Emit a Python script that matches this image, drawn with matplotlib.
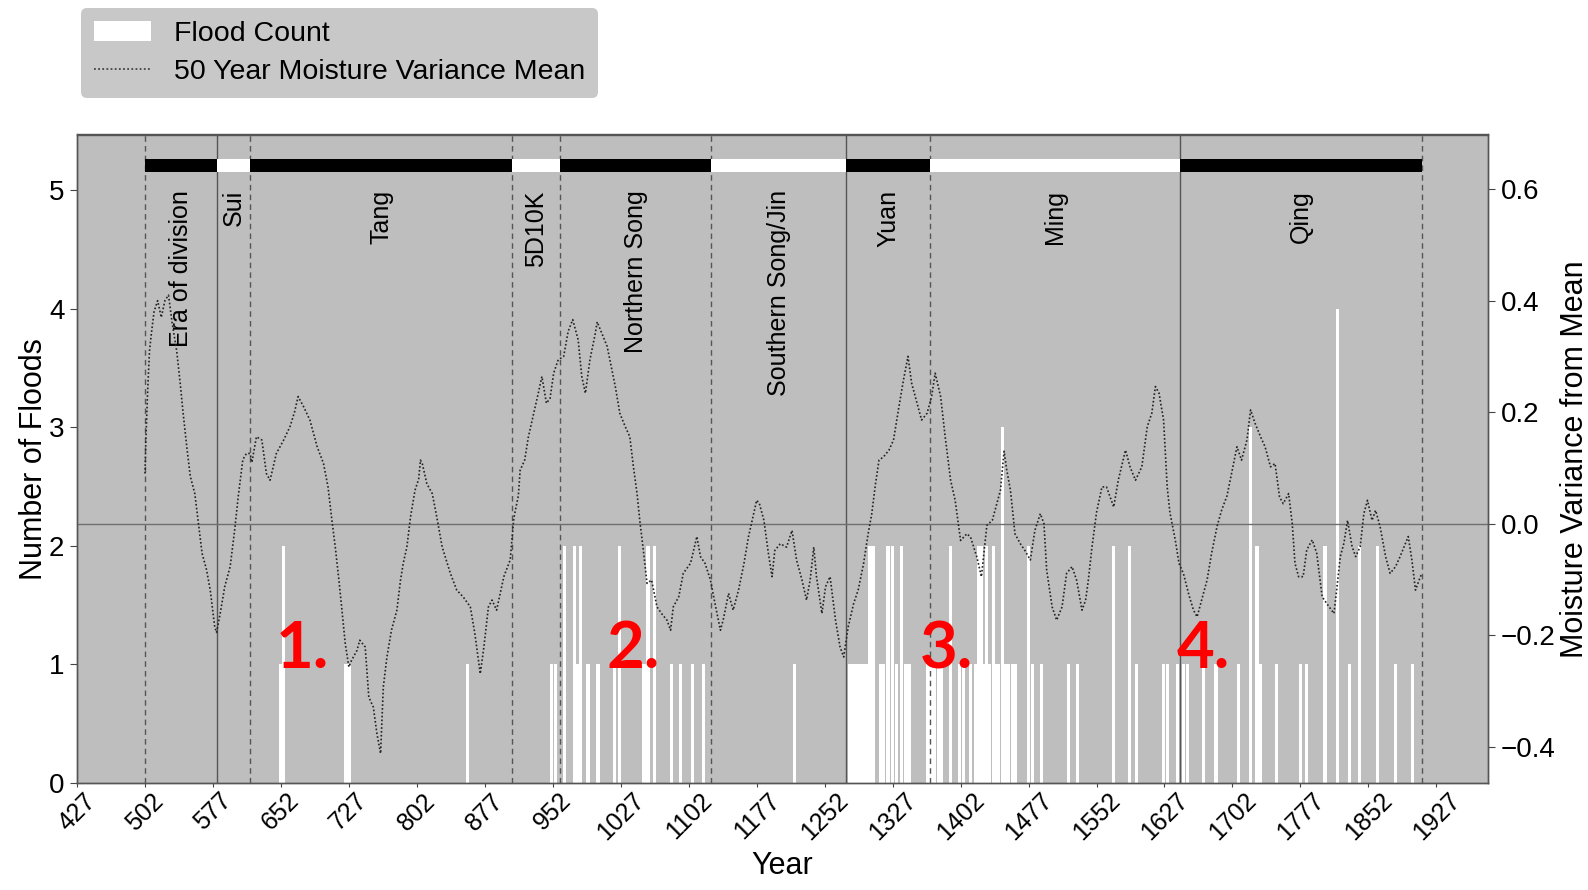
import matplotlib.pyplot as plt
from matplotlib.patches import Patch
from matplotlib.lines import Line2D

# Flood counts per year (white bars, left axis)
flood_years = [652, 655, 723, 727, 858, 951, 955, 965, 976, 979, 983, 991, 1002,
               1020, 1026, 1052, 1055, 1057, 1064, 1083, 1093, 1106, 1118, 1219,
               1280, 1283, 1286, 1289, 1292, 1296, 1299, 1302, 1306, 1314, 1317,
               1322, 1327, 1331, 1337, 1341, 1345, 1366,
               1370, 1373, 1378, 1381, 1391, 1401, 1405, 1413, 1419, 1422, 1425,
               1428, 1431, 1434, 1438, 1441, 1444, 1448, 1451, 1455, 1459, 1462,
               1477, 1481, 1491, 1521, 1531, 1571, 1588, 1596, 1626, 1630, 1641,
               1648, 1652, 1670, 1684, 1709, 1722, 1729, 1733, 1751, 1777, 1784,
               1804, 1818, 1831, 1842, 1862, 1882, 1901]
flood_counts = [1, 2, 1, 1, 1, 1, 1, 2, 2, 1, 2, 1, 1,
                1, 2, 1, 1, 2, 2, 1, 1, 1, 1, 1,
                1, 1, 1, 1, 1, 1, 1, 2, 2, 1, 1,
                2, 2, 1, 2, 1, 1, 1,
                1, 1, 1, 1, 2, 1, 1, 1, 1, 2, 2,
                1, 2, 1, 2, 1, 1, 3, 1, 1, 1, 1,
                2, 1, 1, 1, 1, 2, 2, 1, 1, 1, 1,
                1, 1, 1, 1, 1, 3, 2, 1, 1, 1, 1,
                2, 4, 1, 2, 2, 1, 1]

# 50 year moisture variance mean (right axis)
moist_years = [502, 503, 505, 507, 509, 512, 516, 520, 524, 528, 532, 537, 541, 544,
               548, 552, 557, 561, 565, 570, 574, 579, 581, 585, 590, 596, 601, 605,
               610, 614, 618, 620, 625, 631, 636, 640, 647, 655, 662, 667, 671, 677,
               684, 692, 699, 704, 708, 712, 716, 719, 723, 727, 730, 736, 739, 745,
               749, 754, 758, 762, 765, 769, 774, 780, 784, 787, 791, 795, 800, 804,
               806, 808, 813, 819, 824, 830, 839, 846, 853, 861, 866, 872, 876, 881,
               885, 890, 898, 905, 909, 914, 916, 921, 925, 931, 936, 940, 945, 949,
               953, 958, 964, 969, 974, 980, 984, 988, 993, 999, 1001, 1006, 1012,
               1015, 1021, 1026, 1032, 1037, 1041, 1045, 1048, 1052, 1056, 1061,
               1067, 1072, 1078, 1082, 1085, 1091, 1096, 1104, 1111, 1115, 1120,
               1126, 1131, 1137, 1140, 1146, 1151, 1157, 1163, 1168, 1172, 1177,
               1180, 1185, 1190, 1194, 1197, 1203, 1210, 1216, 1221, 1227, 1232,
               1236, 1240, 1243, 1249, 1253, 1258, 1264, 1269, 1273, 1278, 1284,
               1289, 1295, 1300, 1304, 1308, 1312, 1317, 1323, 1328, 1334, 1339,
               1344, 1348, 1354, 1359, 1365, 1370, 1374, 1380, 1385, 1391, 1396,
               1398, 1402, 1409, 1413, 1420, 1425, 1431, 1437, 1442, 1446, 1450,
               1453, 1457, 1459, 1462, 1468, 1473, 1479, 1484, 1490, 1494, 1497,
               1503, 1508, 1514, 1519, 1525, 1530, 1536, 1540, 1543, 1547, 1552,
               1558, 1563, 1571, 1576, 1584, 1589, 1595, 1602, 1608, 1613, 1617,
               1621, 1626, 1630, 1633, 1639, 1643, 1648, 1654, 1659, 1663, 1668,
               1674, 1679, 1685, 1690, 1696, 1701, 1707, 1712, 1718, 1722, 1727,
               1733, 1738, 1744, 1749, 1754, 1758, 1764, 1768, 1771, 1775, 1780,
               1784, 1790, 1795, 1801, 1806, 1814, 1817, 1821, 1825, 1829, 1834,
               1838, 1843, 1847, 1851, 1856, 1860, 1865, 1871, 1876, 1882, 1887,
               1893, 1896, 1900, 1904, 1908, 1911]
moist_values = [0.09, 0.15, 0.24, 0.31, 0.34, 0.38, 0.40, 0.37, 0.40, 0.41, 0.36, 0.31, 0.25, 0.20,
                0.14, 0.085, 0.054, 0.0, -0.053, -0.083, -0.119, -0.185, -0.195, -0.161, -0.113, -0.077, -0.011, 0.05,
                0.115, 0.126, 0.126, 0.11, 0.156, 0.15, 0.09, 0.078, 0.126, 0.15, 0.174, 0.20, 0.228, 0.21,
                0.186, 0.138, 0.108, 0.066, 0.01, -0.042, -0.101, -0.149, -0.215, -0.257, -0.245, -0.227, -0.209, -0.221,
                -0.311, -0.329, -0.377, -0.412, -0.293, -0.239, -0.191, -0.155, -0.101, -0.071, -0.042, 0.012, 0.06, 0.08,
                0.114, 0.108, 0.072, 0.054, 0.012, -0.042, -0.089, -0.119, -0.131, -0.149, -0.197, -0.269, -0.221, -0.149,
                -0.137, -0.155, -0.095, -0.065, 0.01, 0.05, 0.096, 0.114, 0.155, 0.198, 0.234, 0.264, 0.216, 0.225,
                0.27, 0.294, 0.30, 0.345, 0.366, 0.33, 0.264, 0.234, 0.294, 0.342, 0.362, 0.342, 0.318,
                0.294, 0.246, 0.198, 0.174, 0.156, 0.102, 0.054, 0.006, -0.048, -0.107, -0.101,
                -0.149, -0.161, -0.173, -0.191, -0.149, -0.131, -0.089, -0.071, -0.023, -0.059, -0.071,
                -0.101, -0.143, -0.191, -0.173, -0.125, -0.155, -0.119, -0.071, -0.023, 0.006, 0.042,
                0.036, 0.006, -0.054, -0.095, -0.048, -0.036, -0.042, -0.012, -0.065, -0.101, -0.137,
                -0.101, -0.042, -0.095, -0.161, -0.113, -0.095, -0.173, -0.221, -0.239, -0.185, -0.143,
                -0.119, -0.071, -0.018, 0.018, 0.07, 0.114, 0.12, 0.132, 0.15, 0.21, 0.258,
                0.30, 0.252, 0.216, 0.186, 0.198, 0.228, 0.27, 0.228, 0.156, 0.078, 0.042,
                0.018, -0.03, -0.018, -0.024, -0.06, -0.095, -0.003, 0.006, 0.036, 0.06, 0.13,
                0.096, 0.06, 0.03, -0.018, -0.036, -0.048, -0.065, -0.012, 0.018, 0.0, -0.083,
                -0.149, -0.173, -0.149, -0.089, -0.077, -0.101, -0.155, -0.137, -0.101, -0.042, 0.02,
                0.066, 0.066, 0.03, 0.078, 0.132, 0.102, 0.078, 0.102, 0.174, 0.198, 0.246,
                0.234, 0.186, 0.066, 0.02, -0.03, -0.071, -0.09, -0.128, -0.155, -0.167, -0.137,
                -0.101, -0.053, -0.005, 0.024, 0.05, 0.09, 0.138, 0.114, 0.15, 0.204, 0.18,
                0.156, 0.138, 0.102, 0.108, 0.048, 0.036, 0.054, 0.0, -0.071, -0.095, -0.095,
                -0.047, -0.029, -0.053, -0.131, -0.143, -0.161, -0.119, -0.059, -0.035, 0.006, -0.041,
                -0.059, -0.041, 0.018, 0.042, 0.006, 0.024, -0.006, -0.059, -0.089, -0.077, -0.059,
                -0.035, -0.023, -0.065, -0.119, -0.101, -0.089]

# Dynasties: start years, names, and the closing year of the last one
dyn_starts = [502, 581, 618, 907, 960, 1127, 1276, 1368, 1644]
dyn_end = 1911
dyn_names = ['Era of division', 'Sui', 'Tang', '5D10K', 'Northern Song',
             'Southern Song/Jin', 'Yuan', 'Ming', 'Qing']
solid_bounds = [581, 1276, 1644]

# Numbered markers
mark_labels = ['1.', '2.', '3.', '4.']
mark_years = [646, 1011, 1357, 1640]

xticks = list(range(427, 1928, 75))

plt.rcParams['font.family'] = ['Liberation Sans', 'DejaVu Sans']

fig = plt.figure(figsize=(15.88, 8.90), dpi=100)
ax = fig.add_axes([77 / 1588, 1 - 783 / 890, (1488 - 77) / 1588, (783 - 134.5) / 890])
ax.set_facecolor('#bebebe')
ax.set_xlim(427, 1984)
ax.set_ylim(0, 5.47)

ax.bar(flood_years, flood_counts, width=3.6, color='white', linewidth=0, zorder=2)

# dynasty boundaries, top band and names
bounds = dyn_starts + [dyn_end]
for b in bounds:
    ls = '-' if b in solid_bounds else (0, (4, 3))
    ax.axvline(b, color='#555555', lw=1.0, ls=ls, zorder=3)

spans = [(bounds[i], bounds[i + 1] - bounds[i]) for i in range(len(dyn_starts))]
band_colors = ['black' if i % 2 == 0 else 'white' for i in range(len(dyn_starts))]
ax.broken_barh(spans, (5.15, 0.11), facecolors=band_colors, edgecolor='none', zorder=4)
for i, name in enumerate(dyn_names):
    mid = (bounds[i] + bounds[i + 1]) / 2
    ax.text(mid, 5.0, name, rotation=90, ha='center', va='top', fontsize=18, zorder=5)

ax.set_xticks(xticks)
ax.set_xticklabels([str(t) for t in xticks], rotation=45, ha='center', va='top')
ax.set_yticks(range(6))
ax.tick_params(axis='x', labelsize=18, length=3, pad=1, color='#444444')
ax.tick_params(axis='y', labelsize=20, length=5, pad=4, color='#444444')
ax.set_xlabel('Year', fontsize=22, labelpad=4)
ax.set_ylabel('Number of Floods', fontsize=22, labelpad=0)
for s in ax.spines.values():
    s.set_color('#555555')
    s.set_linewidth(1.0)

ax2 = ax.twinx()
ax2.set_ylim(-0.465, 0.698)
ax2.axhline(0, color='#6f6f6f', lw=1.0, zorder=1)
ax2.plot(moist_years, moist_values, color='#222222', lw=1.2, ls=(0, (1, 1.3)), zorder=6)
ax2.set_yticks([-0.4, -0.2, 0.0, 0.2, 0.4, 0.6])
ax2.tick_params(axis='y', labelsize=20, length=5, pad=4, color='#444444')
ax2.set_ylabel('Moisture Variance from Mean', fontsize=22, labelpad=3)
for s in ax2.spines.values():
    s.set_color('#555555')
    s.set_linewidth(1.0)

for lab, yr in zip(mark_labels, mark_years):
    ax.text(yr, 0.97, lab, color='#ff0000', fontsize=47, fontweight='bold',
            family=['Lato', 'DejaVu Sans'], ha='left', va='baseline', zorder=7)

handles = [Patch(facecolor='white', edgecolor='none', label='Flood Count'),
           Line2D([], [], color='#444444', lw=1.3, ls=(0, (1, 1.3)),
                  label='50 Year Moisture Variance Mean')]
leg = fig.legend(handles=handles, loc='upper left',
                 bbox_to_anchor=(81 / 1588, 1 - 8 / 890), fontsize=20.5,
                 frameon=True, fancybox=True, facecolor='#c8c8c8', edgecolor='none',
                 framealpha=1, handlelength=2.0, handletextpad=0.8,
                 labelspacing=0.42, borderpad=0.45, borderaxespad=0)

fig.savefig('out.png', dpi=100)
